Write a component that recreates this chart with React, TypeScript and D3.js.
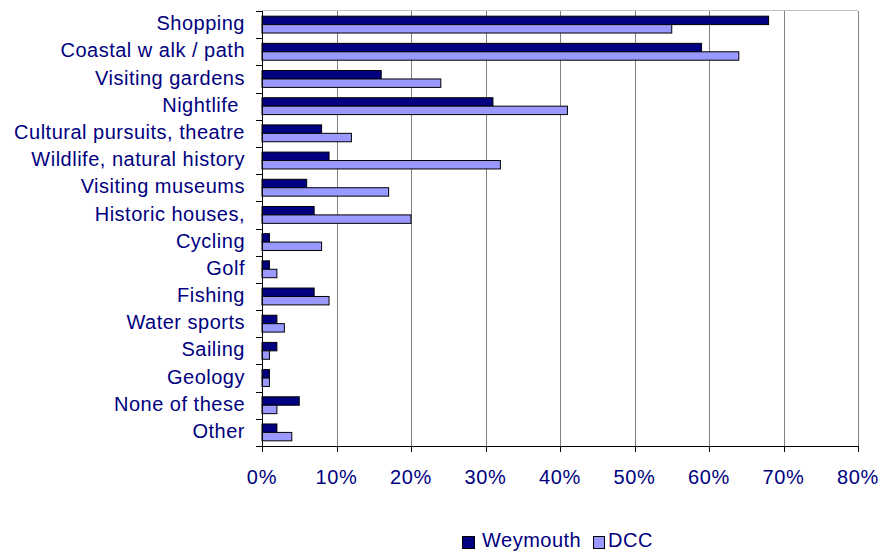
import React from "react";
import * as d3 from "d3";

const categories = [
  "Shopping",
  "Coastal w alk / path",
  "Visiting gardens",
  "Nightlife ",
  "Cultural pursuits, theatre",
  "Wildlife, natural history",
  "Visiting museums",
  "Historic houses,",
  "Cycling",
  "Golf",
  "Fishing",
  "Water sports",
  "Sailing",
  "Geology",
  "None of these",
  "Other",
];
const weymouth = [68, 59, 16, 31, 8, 9, 6, 7, 1, 1, 7, 2, 2, 1, 5, 2];
const dcc = [55, 64, 24, 41, 12, 32, 17, 20, 8, 2, 9, 3, 1, 1, 2, 4];
const xTicks = [0, 10, 20, 30, 40, 50, 60, 70, 80];
const seriesNames = ["Weymouth", "DCC"];
const seriesColors = ["#000080", "#9999FF"];

const W = 879;
const H = 555;
const left = 262;
const right = 858;
const top = 11;
const bottom = 446;
const textColor = "#000080";
const font = "'Liberation Sans', Arial, sans-serif";

export default function App() {
  const x = d3.scaleLinear().domain([0, 80]).range([left, right]);
  const y = d3
    .scaleBand<string>()
    .domain(categories)
    .range([top, bottom])
    .paddingInner(0.38)
    .paddingOuter(0.19);
  const inner = d3
    .scaleBand<number>()
    .domain([0, 1])
    .range([0, y.bandwidth()]);
  const series = [weymouth, dcc];
  const step = y.step();

  return (
    <svg
      width={W}
      height={H}
      style={{ position: "absolute", left: 0, top: 0, background: "#fff" }}
      fontFamily={font}
    >
      {/* top border */}
      <line x1={left} x2={right} y1={top - 0.5} y2={top - 0.5} stroke="#c0c0c0" strokeWidth={1} />
      {/* gridlines */}
      {xTicks.slice(1).map((t) => (
        <line
          key={t}
          x1={Math.round(x(t)) + 0.5}
          x2={Math.round(x(t)) + 0.5}
          y1={top}
          y2={bottom}
          stroke="#808080"
          strokeWidth={1}
        />
      ))}
      {/* bars */}
      {categories.map((c, i) =>
        series.map((s, k) => (
          <rect
            key={c + k}
            x={x(0)}
            y={(y(c) as number) + (inner(k) as number)}
            width={x(s[i]) - x(0)}
            height={inner.bandwidth()}
            fill={seriesColors[k]}
            stroke="#000"
            strokeWidth={1}
          />
        ))
      )}
      {/* axes */}
      <line x1={left + 0.5} x2={left + 0.5} y1={top} y2={bottom + 1} stroke="#000" strokeWidth={1} />
      <line x1={left} x2={right} y1={bottom + 0.5} y2={bottom + 0.5} stroke="#000" strokeWidth={1} />
      {categories.map((c, i) => (
        <line
          key={"yt" + i}
          x1={left - 6}
          x2={left}
          y1={Math.round(top + i * step) + 0.5}
          y2={Math.round(top + i * step) + 0.5}
          stroke="#000"
        />
      ))}
      <line x1={left - 6} x2={left} y1={bottom + 0.5} y2={bottom + 0.5} stroke="#000" />
      {xTicks.map((t) => (
        <line
          key={"xt" + t}
          x1={Math.round(x(t)) + 0.5}
          x2={Math.round(x(t)) + 0.5}
          y1={bottom}
          y2={bottom + 6}
          stroke="#000"
        />
      ))}
      {/* category labels */}
      {categories.map((c) => (
        <text
          key={"l" + c}
          x={245}
          y={(y(c) as number) + y.bandwidth() / 2}
          dy="0.28em"
          textAnchor="end"
          fontSize={20}
          letterSpacing={0.5}
          fill={textColor}
          style={{ whiteSpace: "pre" }}
        >
          {c}
        </text>
      ))}
      {/* x tick labels */}
      {xTicks.map((t) => (
        <text
          key={"xl" + t}
          x={x(t)}
          y={484}
          textAnchor="middle"
          fontSize={20}
          letterSpacing={0.7}
          fill={textColor}
        >
          {t + "%"}
        </text>
      ))}
      {/* legend */}
      <rect x={462.5} y={536.5} width={12} height={12} fill={seriesColors[0]} stroke="#000" />
      <text x={482} y={547} fontSize={20} letterSpacing={0.5} fill={textColor}>
        {seriesNames[0]}
      </text>
      <rect x={593.5} y={536.5} width={11} height={12} fill={seriesColors[1]} stroke="#000" />
      <text x={608} y={547} fontSize={20} letterSpacing={0.5} fill={textColor}>
        {seriesNames[1]}
      </text>
    </svg>
  );
}
